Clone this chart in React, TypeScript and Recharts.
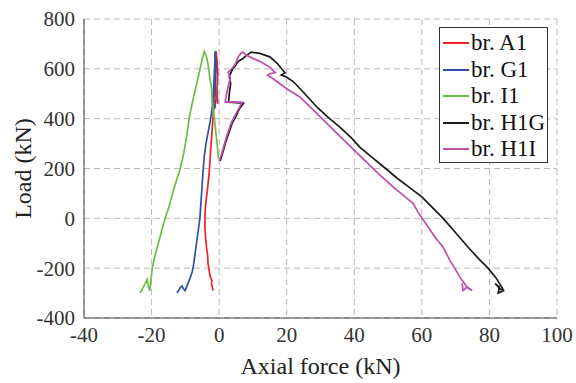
import { LineChart, Line, XAxis, YAxis, CartesianGrid, Label } from 'recharts';

const FONT = 'Liberation Serif';

const X_TICKS = [-40, -20, 0, 20, 40, 60, 80, 100];
const Y_TICKS = [-400, -200, 0, 200, 400, 600, 800];

// [axial force (kN), load (kN)]
const brA1 = [
  [-1.8, -290], [-2.0, -278], [-2.3, -262], [-2.1, -250], [-2.6, -235], [-2.8, -222], [-3.0, -205],
  [-3.3, -180], [-3.4, -150], [-3.7, -120], [-4.0, -80], [-4.2, -40], [-4.2, 0], [-4.1, 40], [-3.8, 80],
  [-3.5, 110], [-3.2, 150], [-2.9, 190], [-2.7, 230], [-2.5, 280], [-2.2, 330], [-1.9, 390], [-1.6, 440],
  [-1.4, 500], [-1.2, 560], [-1.0, 620], [-0.9, 670], [-0.6, 630], [-0.4, 580], [-0.6, 520], [-0.4, 460],
];

const brG1 = [
  [-12.5, -300], [-12.0, -290], [-11.5, -278], [-11.0, -272], [-10.6, -282], [-10.1, -290], [-9.6, -275],
  [-9.2, -260], [-8.6, -240], [-8.0, -215], [-7.6, -190], [-7.2, -150], [-6.8, -110], [-6.4, -70],
  [-6.0, -30], [-5.7, 0], [-5.5, 40], [-5.3, 80], [-5.1, 120], [-4.9, 160], [-4.7, 200], [-4.4, 250],
  [-3.9, 300], [-3.2, 350], [-2.5, 400], [-2.0, 450], [-1.7, 500], [-1.5, 560], [-1.3, 620], [-1.2, 670],
  [-0.9, 610], [-1.1, 540], [-0.9, 480], [-1.3, 440],
];

const brI1 = [
  [-23.4, -300], [-22.6, -280], [-21.9, -262], [-21.3, -245], [-20.9, -275], [-20.5, -290], [-20.2, -250],
  [-19.8, -200], [-19.0, -150], [-18.0, -100], [-17.0, -50], [-16.0, 0], [-15.0, 40], [-13.8, 100],
  [-12.7, 150], [-11.5, 200], [-10.5, 260], [-9.6, 330], [-8.9, 400], [-8.0, 460], [-7.0, 520],
  [-5.8, 590], [-5.0, 640], [-4.4, 670], [-3.8, 650], [-3.3, 620], [-2.8, 570], [-2.2, 520], [-2.1, 470],
  [-1.6, 420], [-1.1, 360], [-0.6, 300], [-0.2, 240],
];

const brH1G = [
  [0.3, 230], [1.0, 260], [1.8, 300], [2.8, 340], [3.8, 380], [5.0, 410], [6.0, 440], [7.2, 462],
  [5.0, 464], [2.8, 466], [3.0, 500], [3.4, 540], [3.0, 570], [4.0, 600], [4.8, 612], [5.6, 630],
  [7.0, 640], [7.7, 650], [9.5, 667], [12.0, 662], [15.0, 648], [17.2, 622], [18.5, 600], [19.5, 584],
  [18.4, 575], [19.8, 568], [22.0, 548], [25.0, 505], [29.0, 446], [32.0, 408], [35.8, 365], [39.0, 325],
  [41.7, 285], [45.0, 248], [49.0, 203], [52.7, 161], [56.5, 122], [60.0, 86], [63.0, 45], [66.3, 0],
  [70.0, -58], [73.7, -116], [77.0, -165], [79.6, -200], [82.0, -240], [83.7, -277], [84.2, -290],
  [82.6, -300], [82.9, -275], [81.7, -262], [83.6, -288],
];

const brH1I = [
  [0.0, 230], [0.8, 260], [1.6, 300], [2.5, 340], [3.5, 380], [4.6, 410], [5.8, 440], [6.8, 466],
  [4.5, 467], [1.8, 466], [2.2, 500], [2.7, 530], [3.3, 562], [2.7, 586], [4.1, 606], [5.0, 625],
  [5.6, 647], [6.3, 660], [7.1, 667], [8.0, 655], [9.2, 647], [12.0, 630], [15.1, 606], [16.6, 585],
  [15.0, 580], [14.3, 574], [16.0, 560], [20.0, 520], [24.0, 486], [30.0, 406], [36.0, 326],
  [42.0, 247], [47.6, 173], [52.0, 120], [57.4, 60], [58.9, 24], [60.1, 0], [63.9, -76], [66.3, -116],
  [68.3, -169], [71.9, -249], [73.7, -281], [74.9, -290], [73.4, -275], [72.2, -290], [71.9, -261],
];

const SERIES = [
  { name: 'br. A1', points: brA1, color: '#ee2229' },
  { name: 'br. G1', points: brG1, color: '#3050a6' },
  { name: 'br. I1', points: brI1, color: '#6cbd45' },
  { name: 'br. H1G', points: brH1G, color: '#1a1a1a' },
  { name: 'br. H1I', points: brH1I, color: '#c04dab' },
];

const toRows = (pts: number[][]) => pts.map(([x, y]) => ({ x, y }));

function LegendBox() {
  return (
    <div style={{
      position: 'absolute', left: 439, top: 27,
      width: 109, height: 136, border: '1px solid #333', background: '#fff',
      fontFamily: FONT, fontSize: 23, color: '#111', boxSizing: 'border-box', paddingTop: 2,
    }}>
      {SERIES.map((s) => (
        <div key={s.name} style={{ display: 'flex', alignItems: 'center', height: 26.5 }}>
          <div style={{ width: 26, height: 2, background: s.color, marginLeft: 3, marginRight: 2 }} />
          <span style={{ lineHeight: '26px' }}>{s.name}</span>
        </div>
      ))}
    </div>
  );
}

export default function App() {
  return (
    <div style={{ position: 'absolute', left: 0, top: 0, background: '#fff', fontFamily: FONT }}>
      <LineChart width={576} height={383} margin={{ top: 19, right: 19, left: 0, bottom: 0 }}
        style={{ fontFamily: FONT }}>
        <CartesianGrid stroke="#b8b8b8" strokeDasharray="6 4" />
        <XAxis
          type="number" dataKey="x" domain={[-40, 100]} ticks={X_TICKS} allowDataOverflow
          height={65} tickLine={false} axisLine={{ stroke: '#444' }}
          tick={{ fontSize: 21, fill: '#333', fontFamily: FONT }} tickMargin={3}
        >
          <Label value="Axial force (kN)" position="insideBottom" offset={9}
            style={{ fontSize: 24, fill: '#222', fontFamily: FONT }} />
        </XAxis>
        <YAxis
          type="number" dataKey="y" domain={[-400, 800]} ticks={Y_TICKS} allowDataOverflow
          width={84} tickLine={false} axisLine={{ stroke: '#444' }}
          tick={{ fontSize: 21, fill: '#333', fontFamily: FONT }} tickMargin={3}
        >
          <Label value="Load (kN)" angle={-90} position="center" dx={-20}
            style={{ fontSize: 24, fill: '#222', fontFamily: FONT, textAnchor: 'middle' }} />
        </YAxis>
        {SERIES.map((s) => (
          <Line key={s.name} data={toRows(s.points)} dataKey="y" name={s.name} type="linear"
            stroke={s.color} strokeWidth={1.7} dot={false} activeDot={false} isAnimationActive={false} />
        ))}
      </LineChart>
      <LegendBox />
    </div>
  );
}
